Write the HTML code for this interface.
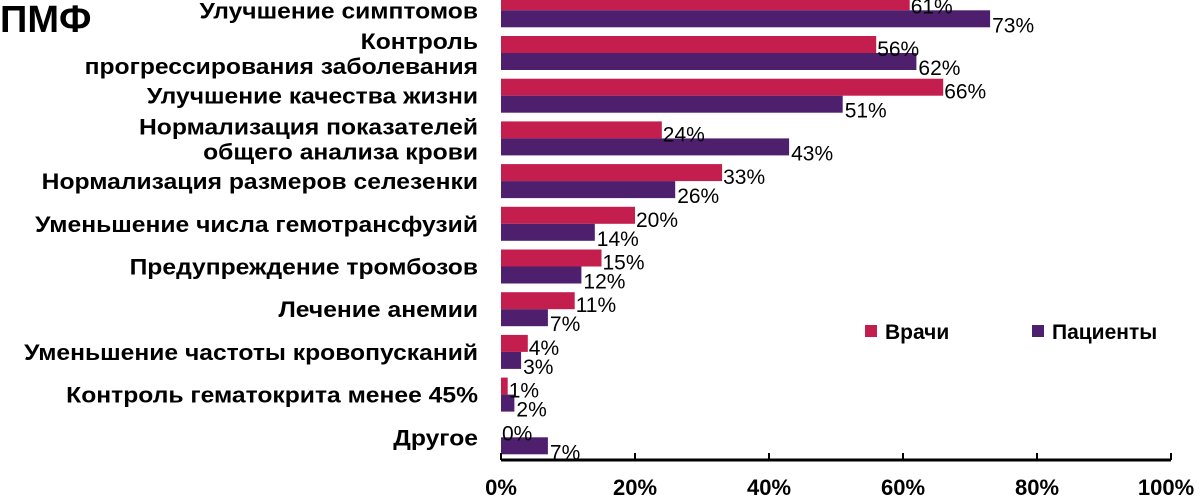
<!DOCTYPE html>
<html><head><meta charset="utf-8"><style>
html,body{margin:0;padding:0;background:#fff;width:1200px;height:496px;overflow:hidden}
svg{display:block;font-family:"Liberation Sans",sans-serif}
</style></head><body>
<svg id="c" width="1200" height="496" xmlns="http://www.w3.org/2000/svg">
<text x="0" y="32" font-size="38" font-weight="bold">ПМФ</text>
<g id="bars"></g>
<g>
<rect x="865" y="325" width="12" height="12" fill="#c41e4e"/>
<text x="885" y="339" font-size="21" font-weight="bold">Врачи</text>
<rect x="1032" y="325" width="12" height="12" fill="#4e1f6c"/>
<text x="1052" y="339" font-size="21" font-weight="bold">Пациенты</text>
</g>
</svg>
<script>
const categories=[["Улучшение симптомов"],["Контроль","прогрессирования заболевания"],["Улучшение качества жизни"],["Нормализация показателей","общего анализа крови"],["Нормализация размеров селезенки"],["Уменьшение числа гемотрансфузий"],["Предупреждение тромбозов"],["Лечение анемии"],["Уменьшение частоты кровопусканий"],["Контроль гематокрита менее 45%"],["Другое"]];
const doctors=[61,56,66,24,33,20,15,11,4,1,0];
const patients=[73,62,51,43,26,14,12,7,3,2,7];
const ticks=[0,20,40,60,80,100];
const NS="http://www.w3.org/2000/svg";
const x0=501,sc=6.7;
const xs=v=>x0+v*sc;
const rowTop=i=>-6.7+i*42.7;
const g=document.getElementById('bars');
function el(t,a,p){const e=document.createElementNS(NS,t);for(const k in a)e.setAttribute(k,a[k]);(p||g).appendChild(e);return e;}
function stretch(e,k){const w=e.getComputedTextLength();e.setAttribute('textLength',(w*k).toFixed(1));e.setAttribute('lengthAdjust','spacingAndGlyphs');}
categories.forEach((lines,i)=>{
  const t=rowTop(i);
  const r=el('rect',{x:x0,y:t,width:xs(doctors[i])-x0,height:17,fill:'#c41e4e'});
  
  
  const p=el('rect',{x:x0,y:t+17,width:xs(patients[i])-x0,height:17,fill:'#4e1f6c'});
  
  
  const l1=el('text',{x:xs(doctors[i])+1,y:t+20,'font-size':21});
  l1.textContent=doctors[i]+'%';
  
  
  const l2=el('text',{x:xs(patients[i])+2,y:t+39,'font-size':21});
  l2.textContent=patients[i]+'%';
  
  
  const c=t+17;
  lines.forEach((s,j)=>{
    const y=lines.length==1?c+8:c-4+j*25;
    const tx=el('text',{x:478,y:y,'font-size':22,'font-weight':'bold','text-anchor':'end'});
    tx.textContent=s;
    
    
    stretch(tx,1.12);
  });
});
const ax=el('line',{x1:x0,x2:xs(100),y1:460,y2:460,stroke:'#000','stroke-width':3});


ticks.forEach(v=>{
  const tk=el('line',{x1:xs(v),x2:xs(v),y1:453,y2:460,stroke:'#000','stroke-width':2});
  
  
  const tl=el('text',{x:Math.min(xs(v),1166),y:495,'font-size':22,'font-weight':'bold','text-anchor':'middle'});
  tl.textContent=v+'%';
  
  
});
</script>
</body></html>
